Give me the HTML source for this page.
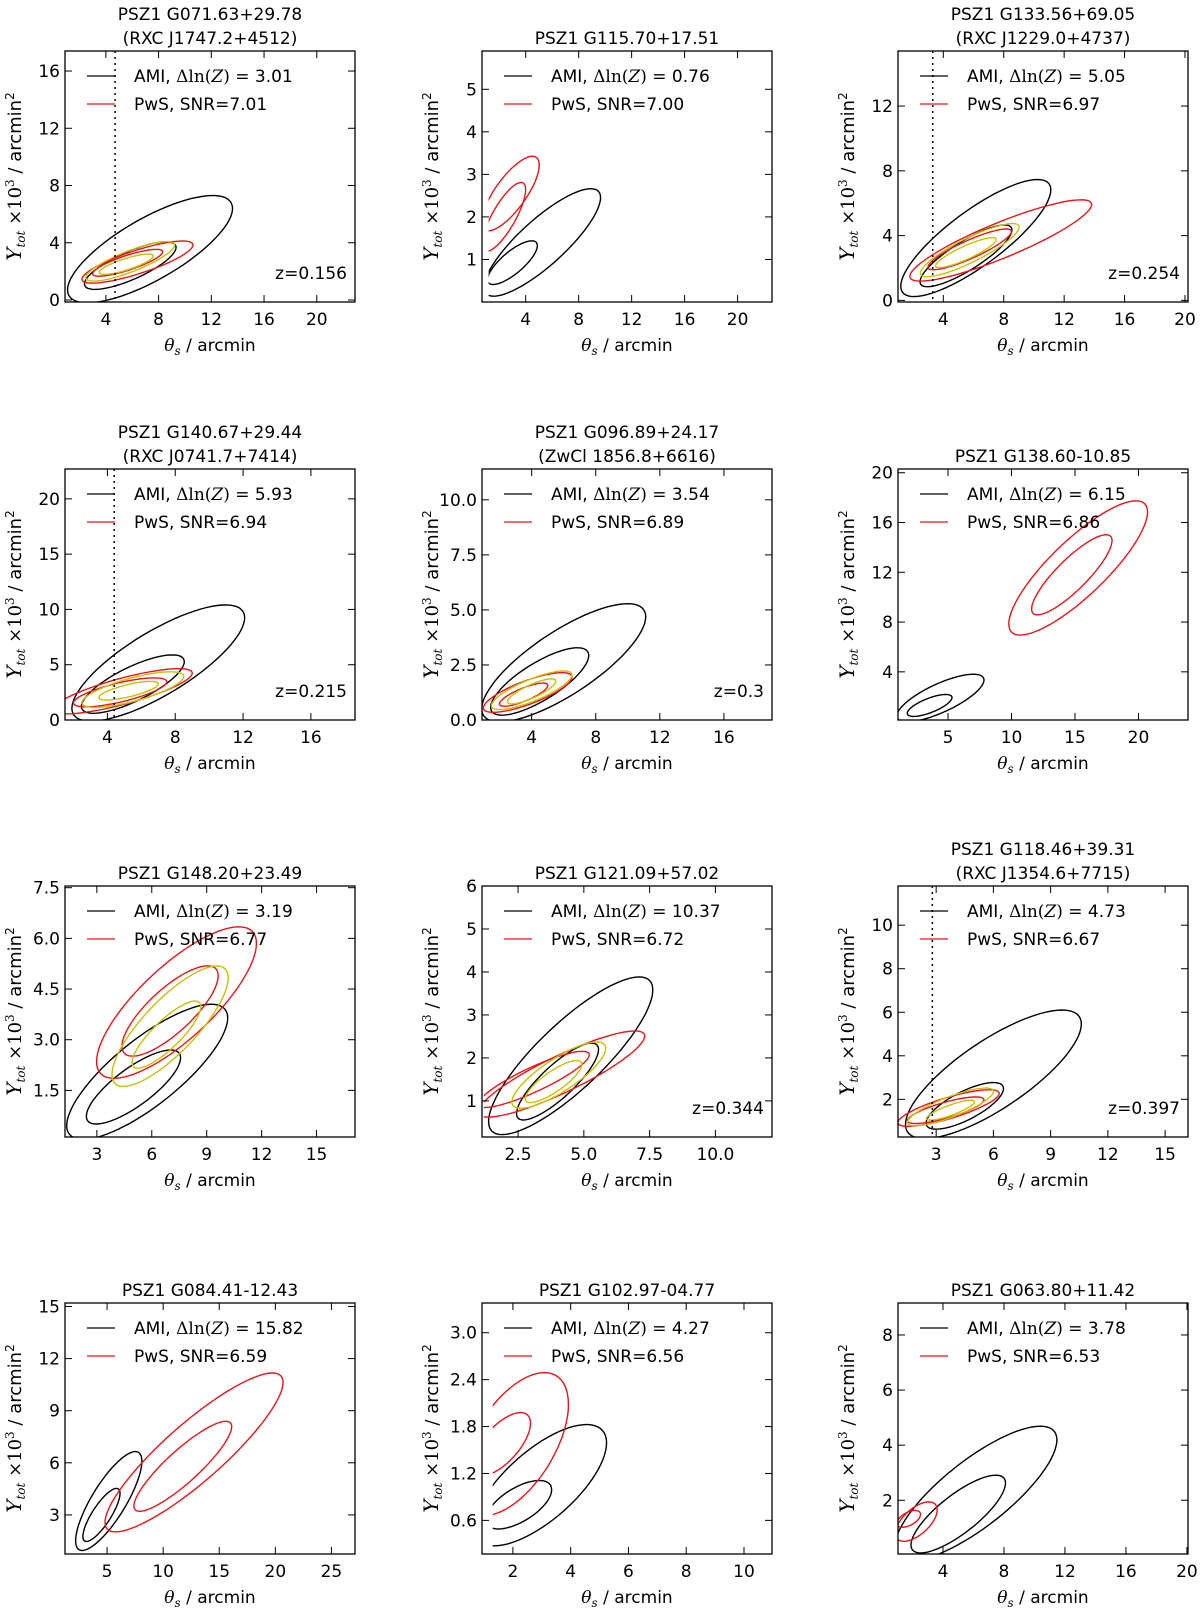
<!DOCTYPE html>
<html><head><meta charset="utf-8"><style>
body{margin:0;background:#fff}
svg{display:block}
text{font-family:"DejaVu Sans","Liberation Sans",sans-serif;fill:#000}
.m{font-family:"DejaVu Serif","Liberation Serif",serif}
</style></head><body>
<svg id="fig" width="1200" height="1612" viewBox="0 0 1200 1612" xmlns="http://www.w3.org/2000/svg"></svg>
<script>
const titles=[["PSZ1 G071.63+29.78","(RXC J1747.2+4512)"],["PSZ1 G115.70+17.51"],["PSZ1 G133.56+69.05","(RXC J1229.0+4737)"],
["PSZ1 G140.67+29.44","(RXC J0741.7+7414)"],["PSZ1 G096.89+24.17","(ZwCl 1856.8+6616)"],["PSZ1 G138.60-10.85"],
["PSZ1 G148.20+23.49"],["PSZ1 G121.09+57.02"],["PSZ1 G118.46+39.31","(RXC J1354.6+7715)"],
["PSZ1 G084.41-12.43"],["PSZ1 G102.97-04.77"],["PSZ1 G063.80+11.42"]];
const amiEvidence=["3.01","0.76","5.05","5.93","3.54","6.15","3.19","10.37","4.73","15.82","4.27","3.78"];
const pwsSNR=["7.01","7.00","6.97","6.94","6.89","6.86","6.77","6.72","6.67","6.59","6.56","6.53"];
const redshift=["0.156","","0.254","0.215","0.3","","","0.344","0.397","","",""];
const dottedX=[4.7,null,3.3,4.4,null,null,null,null,2.8,null,null,null];
const xlims=[[0.9,22.9],[0.7,22.6],[1.0,20.2],[1.5,18.6],[0.9,19],[1.06,23.9],[1.26,17.1],[1.13,12.15],[1.0,16.2],[1.25,27.1],[0.93,10.97],[1.05,20.07]];
const ylims=[[-0.14,17.4],[0,5.9],[-0.1,15.4],[0,22.7],[0,11.4],[0.13,20.3],[0.12,7.55],[0.16,6],[0.27,11.8],[0.75,15.2],[0.17,3.38],[0.05,9.16]];
const xticks=[[4,8,12,16,20],[4,8,12,16,20],[4,8,12,16,20],[4,8,12,16],[4,8,12,16],[5,10,15,20],[3,6,9,12,15],[2.5,5,7.5,10],[3,6,9,12,15],[5,10,15,20,25],[2,4,6,8,10],[4,8,12,16,20]];
const yticks=[[0,4,8,12,16],[1,2,3,4,5],[0,4,8,12],[0,5,10,15,20],[0,2.5,5,7.5,10],[4,8,12,16,20],[1.5,3,4.5,6,7.5],[1,2,3,4,5,6],[2,4,6,8,10],[3,6,9,12,15],[0.6,1.2,1.8,2.4,3.0],[2,4,6,8]];
const xdec=[0,0,0,0,0,0,0,1,0,0,0,0];
const ydec=[0,0,0,0,1,0,1,0,0,0,1,0];
const dataXmin=[null,1.2,null,null,null,null,null,1.2,null,null,1.3,null];
// contours: [color, x1,y1, x2,y2, widthRatio]
const contours=[
[["k",1.2,0.3,13.5,6.8,0.33],["k",2.4,1.0,9.3,3.8,0.28],["r",2.2,1.4,10.6,3.9,0.2],["r",3.0,1.8,8.3,3.4,0.2],["y",2.5,1.5,9.2,3.9,0.22],["y",3.5,1.9,7.6,3.1,0.2]],
[["k",1.0,0.2,9.5,2.6,0.3],["k",1.2,0.45,4.8,1.4,0.35],["r",0.9,1.7,4.8,3.4,0.35],["r",0.9,1.2,3.8,2.8,0.3]],
[["k",1.3,0.5,11,7.2,0.3],["k",2.5,1.0,8.5,4.5,0.27],["r",1.8,1.4,13.8,6.0,0.18],["r",3.0,2.0,8.5,4.3,0.2],["y",2.5,1.6,9.0,4.6,0.22],["y",3.5,2.1,7.5,3.8,0.2]],
[["k",2.0,0.5,12,9.8,0.32],["k",2.5,1.0,8.5,5.5,0.3],["r",0.8,0.9,9.0,4.3,0.18],["r",2.0,1.5,7.5,3.5,0.2],["y",2.5,1.5,8.5,4.0,0.22],["y",3.5,2.0,7.0,3.3,0.2]],
[["k",1.0,0.2,11,5.0,0.33],["k",1.5,0.4,7.5,3.1,0.33],["r",1.0,0.5,6.5,2.0,0.25],["r",2.0,0.7,5.0,1.6,0.25],["y",1.5,0.6,6.5,2.1,0.25],["y",2.5,0.8,5.5,1.8,0.25]],
[["k",1.0,0.3,7.8,3.5,0.3],["k",1.8,0.6,5.3,2.0,0.3],["r",10,7.2,20.5,17.5,0.3],["r",11.7,8.7,17.8,14.9,0.28]],
[["k",1.5,0.2,10,3.9,0.33],["k",2.5,0.6,7.5,2.6,0.33],["r",3.2,2.0,11.5,6.2,0.35],["r",4.5,2.6,9.5,5.1,0.35],["y",4.0,1.7,10,5.1,0.33],["y",5.0,2.2,8.6,4.1,0.3]],
[["k",1.5,0.3,7.5,3.8,0.3],["k",2.5,0.6,5.5,2.3,0.3],["r",1.0,0.7,7.3,2.55,0.2],["r",1.0,0.9,5.2,2.1,0.2],["y",2.3,0.9,5.8,2.3,0.3],["y",2.8,1.0,4.9,1.9,0.3]],
[["k",1.5,0.5,10.5,5.8,0.33],["k",2.5,0.8,6.5,2.6,0.33],["r",1.0,0.9,6.3,2.3,0.2],["r",1.5,1.0,5.5,2.0,0.2],["y",1.5,0.9,6.0,2.4,0.22],["y",2.5,1.1,5.0,1.9,0.2]],
[["k",2.5,1.0,7.8,6.6,0.3],["k",3.0,1.5,6.0,4.5,0.3],["r",5.0,2.2,20.5,11,0.25],["r",7.5,3.3,16,8.3,0.25]],
[["k",0.8,0.35,5.1,1.75,0.42],["k",1.1,0.55,3.3,1.05,0.45],["r",0.6,0.7,3.5,2.45,0.5],["r",0.7,1.2,2.5,1.95,0.45]],
[["k",1.0,0.0,11.3,4.5,0.33],["k",2.0,0.2,8.0,2.8,0.33],["r",1.0,0.6,3.5,1.85,0.5],["r",1.0,1.1,2.5,1.55,0.5]]
];
const colLeft=[65,482,898], rowTop=[51,469,886,1303], W=290, H=251;
const colors={k:"#000",r:"#e8141a",y:"#c8c000"};
const NS="http://www.w3.org/2000/svg";
const svg=document.getElementById("fig");
function mk(tag,attrs,parent){const e=document.createElementNS(NS,tag);for(const k in attrs)e.setAttribute(k,attrs[k]);(parent||svg).appendChild(e);return e;}
for(let i=0;i<12;i++){
  const L=colLeft[i%3],T=rowTop[Math.floor(i/3)];
  const [x0,x1]=xlims[i],[y0,y1]=ylims[i];
  const sx=v=>L+(v-x0)/(x1-x0)*W, sy=v=>T+H-(v-y0)/(y1-y0)*H;
  const g=mk("g",{});
  
  
  const tl=titles[i];
  tl.forEach((t,j)=>{const tt=mk("text",{x:L+W/2,y:T-(tl.length-j)*24+17,"text-anchor":"middle","font-size":"17"},g);tt.textContent=t;
    
    });
  const cp=mk("clipPath",{id:"c"+i},g);
  let cx=L; if(dataXmin[i]!==null) cx=sx(dataXmin[i]);
  mk("rect",{x:cx,y:T,width:L+W-cx,height:H},cp);
  const cg=mk("g",{"clip-path":"url(#c"+i+")"},g);
  contours[i].forEach(c=>{
    const [col,a1,b1,a2,b2,f]=c;
    const p1=[sx(a1),sy(b1)],p2=[sx(a2),sy(b2)];
    const cxp=(p1[0]+p2[0])/2,cyp=(p1[1]+p2[1])/2;
    const ax=(p2[0]-p1[0])/2,ay=(p2[1]-p1[1])/2;
    const bx=-ay*f,by=ax*f;
    let d="";
    for(let k=0;k<=80;k++){const t=k/80*2*Math.PI;const px=cxp+Math.cos(t)*ax+Math.sin(t)*bx,py=cyp+Math.cos(t)*ay+Math.sin(t)*by;d+=(k?"L":"M")+px.toFixed(1)+","+py.toFixed(1);}
    const p=mk("path",{d:d+"Z",fill:"none",stroke:colors[col],"stroke-width":"1.4"},cg);
    
    
  });
  if(dottedX[i]!==null){const l=mk("line",{x1:sx(dottedX[i]),x2:sx(dottedX[i]),y1:T,y2:T+H,stroke:"#000","stroke-width":"1.5","stroke-dasharray":"2,4"},cg);
    
    }
  const fr=mk("rect",{x:L,y:T,width:W,height:H,fill:"none",stroke:"#000","stroke-width":"1.3"},g);
  
  
  xticks[i].forEach(v=>{const x=sx(v);
    mk("line",{x1:x,x2:x,y1:T+H,y2:T+H-7,stroke:"#000","stroke-width":"1"},g);
    mk("line",{x1:x,x2:x,y1:T,y2:T+7,stroke:"#000","stroke-width":"1"},g);
    const t=mk("text",{x:x,y:T+H+23,"text-anchor":"middle","font-size":"17"},g);t.textContent=v.toFixed(xdec[i]);
    
    });
  yticks[i].forEach(v=>{const y=sy(v);
    mk("line",{x1:L,x2:L+7,y1:y,y2:y,stroke:"#000","stroke-width":"1"},g);
    mk("line",{x1:L+W,x2:L+W-7,y1:y,y2:y,stroke:"#000","stroke-width":"1"},g);
    const t=mk("text",{x:L-5,y:y+6,"text-anchor":"end","font-size":"17"},g);t.textContent=v.toFixed(ydec[i]);
    
    });
  const xl=mk("text",{x:L+W/2,y:T+H+49,"text-anchor":"middle","font-size":"17"},g);
  xl.innerHTML='<tspan class="m" font-style="italic">θ</tspan><tspan class="m" font-style="italic" font-size="12" dy="4">s</tspan><tspan dy="-4"> / arcmin</tspan>';
  
  
  const yl=mk("text",{transform:"translate("+(L-44)+","+(T+H/2)+") rotate(-90)","text-anchor":"middle","font-size":"18"},g);
  yl.innerHTML='<tspan class="m" font-style="italic" font-size="20">Y</tspan><tspan class="m" font-style="italic" font-size="12" dy="4">tot</tspan><tspan class="m" dy="-4"> ×10</tspan><tspan class="m" font-size="12" dy="-7">3</tspan><tspan dy="7">  / arcmin</tspan><tspan font-size="12" dy="-7">2</tspan>';
  
  
  const lg=mk("g",{},g);
  
  
  mk("line",{x1:L+22,x2:L+50,y1:T+25,y2:T+25,stroke:"#000","stroke-width":"1.3"},lg);
  mk("line",{x1:L+22,x2:L+50,y1:T+53,y2:T+53,stroke:"#e8141a","stroke-width":"1.3"},lg);
  const t1=mk("text",{x:L+69,y:T+31,"font-size":"17"},lg);
  t1.innerHTML='AMI, <tspan class="m">Δln(<tspan font-style="italic">Z</tspan>) = </tspan>'+amiEvidence[i];
  
  
  const t2=mk("text",{x:L+69,y:T+59,"font-size":"17"},lg);
  t2.textContent='PwS, SNR='+pwsSNR[i];
  
  
  if(redshift[i]){const z=mk("text",{x:L+W-8,y:T+H-23,"text-anchor":"end","font-size":"17"},g);z.textContent="z="+redshift[i];
    
    }
}
</script>
</body></html>
